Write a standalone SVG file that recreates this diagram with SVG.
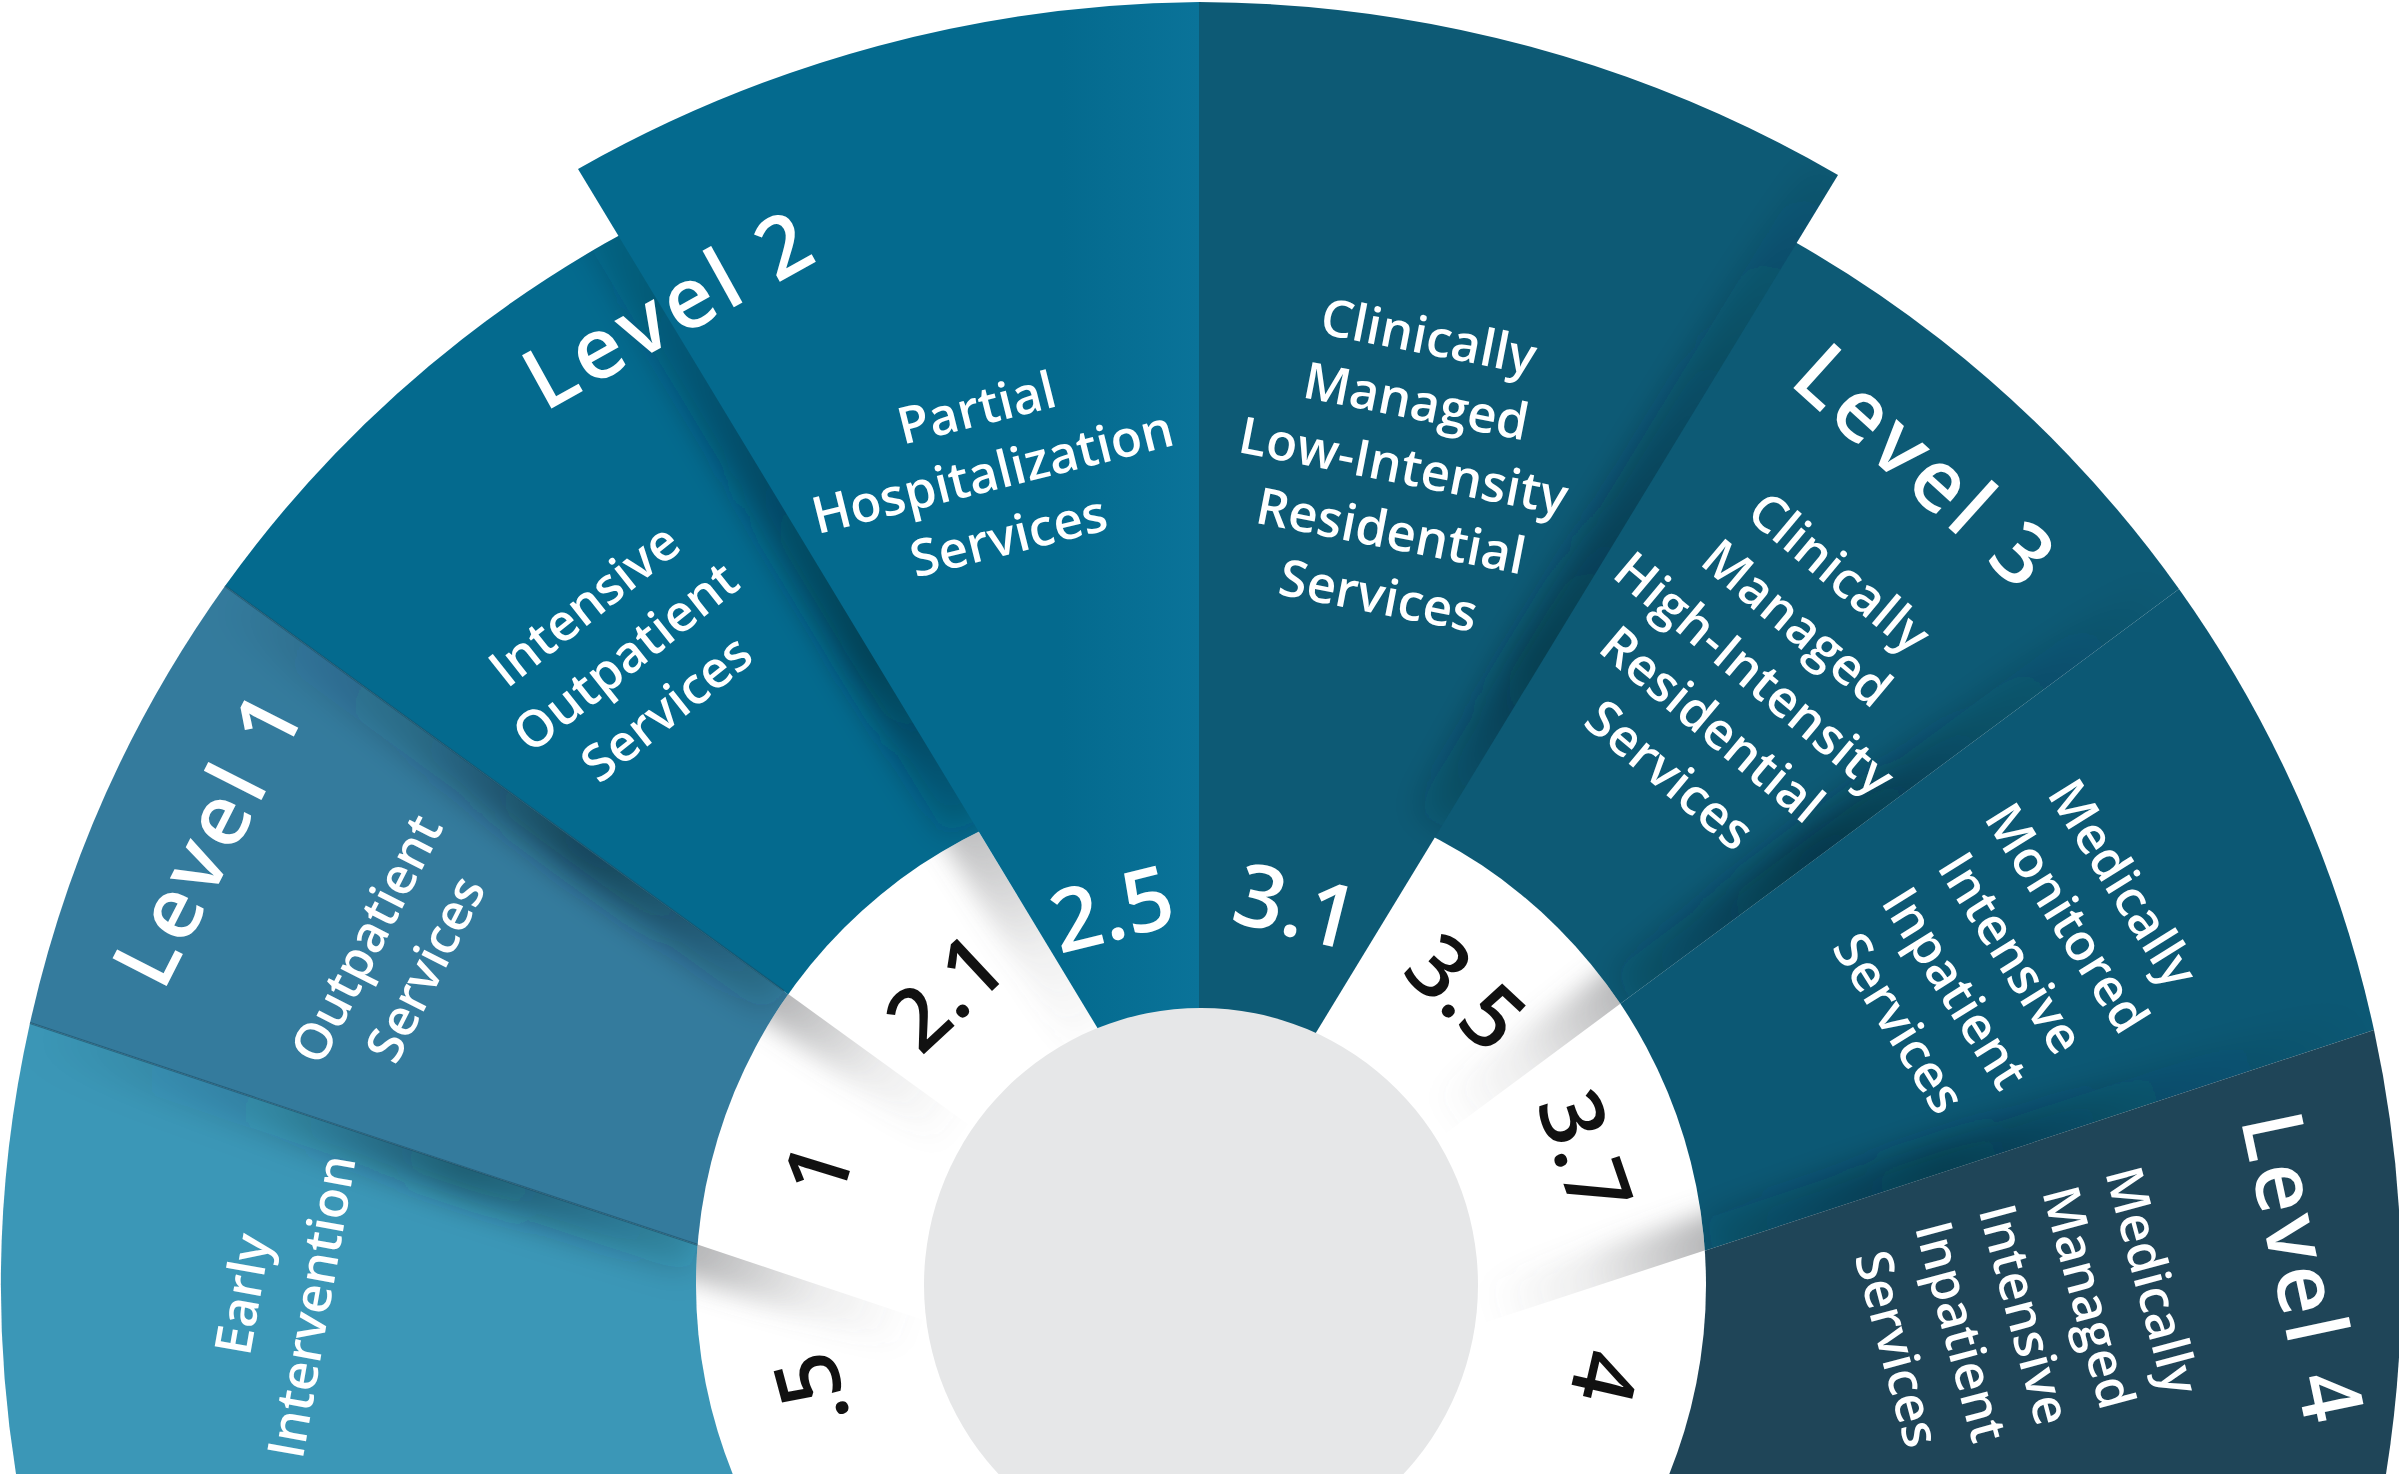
<svg xmlns="http://www.w3.org/2000/svg" xmlns:xlink="http://www.w3.org/1999/xlink" width="2399" height="1474" viewBox="0 0 2399 1474">
<style>
.t{font-family:"Open Sans","Liberation Sans",sans-serif;font-weight:600;text-anchor:middle;dominant-baseline:central}
.lvl{font-size:85px;fill:#fff;letter-spacing:5px}
.desc{font-size:51px;fill:#fff}
.nw{font-size:87px;fill:#fff}
.nb{font-size:87px;fill:#111}
.edge{stroke:#1d4f66;stroke-width:2;stroke-opacity:0.6;fill:none}
</style>
<defs>
<filter id="blur" filterUnits="userSpaceOnUse" x="-200" y="-200" width="2800" height="1900"><feGaussianBlur stdDeviation="16"/></filter>
<filter id="blurR" filterUnits="userSpaceOnUse" x="-200" y="-200" width="2800" height="1900"><feGaussianBlur stdDeviation="12"/></filter>
<path id="sA" d="M797,1278 L30,1023 A1200,1200 0 0 0 16,1474 L1201,1474 Z"/>
<path id="sB" d="M895,1072 L225,586 A1200,1200 0 0 0 30,1023 L797,1278 Z"/>
<path id="sC" d="M895,1072 L225,586 A1200,1200 0 0 1 760,169 L1141,1100 Z"/>
<path id="sD" d="M1141,1100 L578,169 A1283,1283 0 0 1 1199,2 L1199,1100 Z"/>
<path id="sD2" d="M1199,1100 L1199,2 A1283,1283 0 0 1 1838,175 L1275,1100 Z"/>
<path id="sE" d="M1519,1079 L2179,589 A1200,1200 0 0 0 1640,168 L1275,1100 Z"/>
<path id="sF" d="M1519,1079 L2179,589 A1200,1200 0 0 1 2374,1030 L1613,1281 Z"/>
<path id="sG" d="M1613,1281 L2374,1030 A1200,1200 0 0 1 2386,1474 L1201,1474 Z"/>
<clipPath id="cA"><use href="#sA"/></clipPath>
<clipPath id="cB"><use href="#sB"/></clipPath>
<clipPath id="cC"><use href="#sC"/></clipPath>
<clipPath id="cD2"><use href="#sD2"/></clipPath>
<clipPath id="cE"><use href="#sE"/></clipPath>
<clipPath id="cF"><use href="#sF"/></clipPath>
<clipPath id="cRing"><circle cx="1201" cy="1285" r="505"/></clipPath>
<clipPath id="h1"><polygon points="0,1012 2399,1812 2399,2000 0,2000"/></clipPath>
<clipPath id="h2"><polygon points="0,423 2399,2161 0,2161"/></clipPath>
<clipPath id="h3"><polygon points="0,0 476,0 1367,1474 0,1474"/></clipPath>
<clipPath id="h4"><polygon points="0,0 2399,0 2399,426 0,2206"/></clipPath>
<clipPath id="h5"><polygon points="0,0 2399,0 2399,1022 0,1811"/></clipPath>
<linearGradient id="dGrad" gradientUnits="userSpaceOnUse" x1="1060" y1="0" x2="1199" y2="0">
<stop offset="0" stop-color="#046a8e"/><stop offset="1" stop-color="#0a7399"/>
</linearGradient>
<linearGradient id="g1" gradientUnits="userSpaceOnUse" x1="30" y1="1023" x2="698" y2="1245">
<stop offset="0" stop-color="#05202c" stop-opacity="0"/><stop offset="0.35" stop-color="#05202c" stop-opacity="0.15"/><stop offset="0.65" stop-color="#05202c" stop-opacity="0.5"/><stop offset="1" stop-color="#05202c" stop-opacity="0.15"/>
</linearGradient>
<linearGradient id="g2" gradientUnits="userSpaceOnUse" x1="225" y1="586" x2="784" y2="991">
<stop offset="0" stop-color="#05202c" stop-opacity="0"/><stop offset="0.35" stop-color="#05202c" stop-opacity="0.2"/><stop offset="0.65" stop-color="#05202c" stop-opacity="0.6"/><stop offset="1" stop-color="#05202c" stop-opacity="0.15"/>
</linearGradient>
<linearGradient id="g3" gradientUnits="userSpaceOnUse" x1="578" y1="169" x2="973" y2="822">
<stop offset="0" stop-color="#05202c" stop-opacity="0.1"/><stop offset="0.4" stop-color="#05202c" stop-opacity="0.35"/><stop offset="0.75" stop-color="#05202c" stop-opacity="0.55"/><stop offset="1" stop-color="#05202c" stop-opacity="0.2"/>
</linearGradient>
<linearGradient id="g4" gradientUnits="userSpaceOnUse" x1="1838" y1="175" x2="1441" y2="826">
<stop offset="0" stop-color="#05202c" stop-opacity="0.05"/><stop offset="0.4" stop-color="#05202c" stop-opacity="0.3"/><stop offset="0.75" stop-color="#05202c" stop-opacity="0.5"/><stop offset="1" stop-color="#05202c" stop-opacity="0.15"/>
</linearGradient>
<linearGradient id="g5" gradientUnits="userSpaceOnUse" x1="2179" y1="589" x2="1629" y2="997">
<stop offset="0" stop-color="#05202c" stop-opacity="0"/><stop offset="0.35" stop-color="#05202c" stop-opacity="0.2"/><stop offset="0.65" stop-color="#05202c" stop-opacity="0.6"/><stop offset="1" stop-color="#05202c" stop-opacity="0.15"/>
</linearGradient>
<linearGradient id="g6" gradientUnits="userSpaceOnUse" x1="2374" y1="1030" x2="1712" y2="1248">
<stop offset="0" stop-color="#05202c" stop-opacity="0"/><stop offset="0.35" stop-color="#05202c" stop-opacity="0.15"/><stop offset="0.65" stop-color="#05202c" stop-opacity="0.5"/><stop offset="1" stop-color="#05202c" stop-opacity="0.15"/>
</linearGradient>
<linearGradient id="r1" gradientUnits="userSpaceOnUse" x1="698" y1="1245" x2="916" y2="1318">
<stop offset="0" stop-color="#6d6e71" stop-opacity="0.5"/><stop offset="0.55" stop-color="#6d6e71" stop-opacity="0.12"/><stop offset="1" stop-color="#6d6e71" stop-opacity="0"/>
</linearGradient>
<linearGradient id="r2" gradientUnits="userSpaceOnUse" x1="784" y1="991" x2="962" y2="1120">
<stop offset="0" stop-color="#6d6e71" stop-opacity="0.5"/><stop offset="0.55" stop-color="#6d6e71" stop-opacity="0.12"/><stop offset="1" stop-color="#6d6e71" stop-opacity="0"/>
</linearGradient>
<linearGradient id="r3" gradientUnits="userSpaceOnUse" x1="973" y1="822" x2="1110" y2="1050">
<stop offset="0" stop-color="#6d6e71" stop-opacity="0.45"/><stop offset="0.55" stop-color="#6d6e71" stop-opacity="0.1"/><stop offset="1" stop-color="#6d6e71" stop-opacity="0"/>
</linearGradient>
<linearGradient id="r4" gradientUnits="userSpaceOnUse" x1="1629" y1="997" x2="1452" y2="1128">
<stop offset="0" stop-color="#6d6e71" stop-opacity="0.5"/><stop offset="0.55" stop-color="#6d6e71" stop-opacity="0.12"/><stop offset="1" stop-color="#6d6e71" stop-opacity="0"/>
</linearGradient>
<linearGradient id="r5" gradientUnits="userSpaceOnUse" x1="1712" y1="1248" x2="1493" y2="1320">
<stop offset="0" stop-color="#6d6e71" stop-opacity="0.5"/><stop offset="0.55" stop-color="#6d6e71" stop-opacity="0.12"/><stop offset="1" stop-color="#6d6e71" stop-opacity="0"/>
</linearGradient>
</defs>

<rect width="2399" height="1474" fill="#fff"/>

<g id="outer-slices">
<use id="slice-0-5" href="#sA" fill="#3b97b7"/>
<use id="slice-1" href="#sB" fill="#347b9d"/>
<use id="slice-2-1" href="#sC" fill="#046a8e"/>
<use id="slice-3-5" href="#sE" fill="#0d5a75"/>
<use id="slice-3-7" href="#sF" fill="#0c5874"/>
<use id="slice-4" href="#sG" fill="#1f4558"/>
</g>

<g id="slice-shadows">
<g clip-path="url(#cA)"><line x1="30" y1="1023" x2="698" y2="1245" stroke="url(#g1)" stroke-width="60" filter="url(#blur)"/></g>
<g clip-path="url(#cB)"><line x1="225" y1="586" x2="784" y2="991" stroke="url(#g2)" stroke-width="60" filter="url(#blur)"/></g>
<g clip-path="url(#cC)"><line x1="578" y1="169" x2="973" y2="822" stroke="url(#g3)" stroke-width="60" filter="url(#blur)"/></g>
<g clip-path="url(#cE)"><line x1="2179" y1="589" x2="1629" y2="997" stroke="url(#g5)" stroke-width="60" filter="url(#blur)"/></g>
<g clip-path="url(#cF)"><line x1="2374" y1="1030" x2="1712" y2="1248" stroke="url(#g6)" stroke-width="60" filter="url(#blur)"/></g>
<line class="edge" x1="30" y1="1023" x2="698" y2="1245"/>
<line class="edge" x1="225" y1="586" x2="784" y2="991"/>
</g>

<g id="ring">
<circle cx="1201" cy="1285" r="505" fill="#fff"/>
<g clip-path="url(#cRing)">
<g clip-path="url(#h1)"><line x1="660" y1="1232" x2="916" y2="1318" stroke="url(#r1)" stroke-width="70" filter="url(#blurR)"/></g>
<g clip-path="url(#h2)"><line x1="752" y1="968" x2="962" y2="1120" stroke="url(#r2)" stroke-width="70" filter="url(#blurR)"/></g>
<g clip-path="url(#h3)"><line x1="952" y1="788" x2="1110" y2="1050" stroke="url(#r3)" stroke-width="70" filter="url(#blurR)"/></g>
<g clip-path="url(#h4)"><line x1="1661" y1="973" x2="1452" y2="1128" stroke="url(#r4)" stroke-width="70" filter="url(#blurR)"/></g>
<g clip-path="url(#h5)"><line x1="1750" y1="1236" x2="1493" y2="1320" stroke="url(#r5)" stroke-width="70" filter="url(#blurR)"/></g>
</g>
</g>

<g id="center-slices">
<use id="slice-2-5" href="#sD" fill="url(#dGrad)"/>
<use id="slice-3-1" href="#sD2" fill="#0d5a75"/>
<g clip-path="url(#cD2)"><line x1="1838" y1="175" x2="1441" y2="826" stroke="url(#g4)" stroke-width="60" filter="url(#blur)"/></g>
</g>

<circle id="hub" cx="1201" cy="1285" r="277" fill="#e6e7e8"/>

<g id="node-level-0-5">
<text class="t desc" transform="translate(275,1300) rotate(-80)"><tspan x="0" y="-35">Early</tspan><tspan x="0" y="35">Intervention</tspan></text>
<text class="t nb" transform="translate(808,1391) rotate(-105)">.5</text>
</g>
<g id="node-level-1">
<text class="t lvl" transform="translate(206,836) rotate(-63)">Level 1</text>
<text class="t desc" transform="translate(394,953) rotate(-63)"><tspan x="0" y="-33">Outpatient</tspan><tspan x="0" y="33">Services</tspan></text>
<text class="t nb" transform="translate(815,1169) rotate(-73)">1</text>
</g>
<g id="node-level-2-1">
<text class="t lvl" transform="translate(668,306) rotate(-29)">Level 2</text>
<text class="t desc" transform="translate(624,655) rotate(-38.5)"><tspan x="0" y="-66">Intensive</tspan><tspan x="0" y="0">Outpatient</tspan><tspan x="0" y="66">Services</tspan></text>
<text class="t nb" transform="translate(943,990) rotate(-43)">2.1</text>
</g>
<g id="node-level-2-5">
<text class="t desc" transform="translate(992,470) rotate(-14)"><tspan x="0" y="-66">Partial</tspan><tspan x="0" y="0">Hospitalization</tspan><tspan x="0" y="66">Services</tspan></text>
<text class="t nw" transform="translate(1111,906) rotate(-14)">2.5</text>
</g>
<g id="node-level-3-1">
<text class="t desc" transform="translate(1404,464) rotate(11)"><tspan x="0" y="-132">Clinically</tspan><tspan x="0" y="-66">Managed</tspan><tspan x="0" y="0">Low-Intensity</tspan><tspan x="0" y="66">Residential</tspan><tspan x="0" y="132">Services</tspan></text>
<text class="t nw" transform="translate(1297,903) rotate(14)">3.1</text>
</g>
<g id="node-level-3-5">
<text class="t lvl" transform="translate(1928,465) rotate(42)">Level 3</text>
<text class="t desc" transform="translate(1756,672) rotate(40)"><tspan x="0" y="-132">Clinically</tspan><tspan x="0" y="-66">Managed</tspan><tspan x="0" y="0">High-Intensity</tspan><tspan x="0" y="66">Residential</tspan><tspan x="0" y="132">Services</tspan></text>
<text class="t nb" transform="translate(1468,990) rotate(43)">3.5</text>
</g>
<g id="node-level-3-7">
<text class="t desc" transform="translate(2013,952) rotate(58)"><tspan x="0" y="-132">Medically</tspan><tspan x="0" y="-66">Monitored</tspan><tspan x="0" y="0">Intensive</tspan><tspan x="0" y="66">Inpatient</tspan><tspan x="0" y="132">Services</tspan></text>
<text class="t nb" transform="translate(1588,1151) rotate(71)">3.7</text>
</g>
<g id="node-level-4">
<text class="t lvl" transform="translate(2306,1268) rotate(78)">Level 4</text>
<text class="t desc" transform="translate(2027,1314) rotate(75)"><tspan x="0" y="-132">Medically</tspan><tspan x="0" y="-66">Managed</tspan><tspan x="0" y="0">Intensive</tspan><tspan x="0" y="66">Inpatient</tspan><tspan x="0" y="132">Services</tspan></text>
<text class="t nb" transform="translate(1608,1378) rotate(103)">4</text>
</g>
</svg>
